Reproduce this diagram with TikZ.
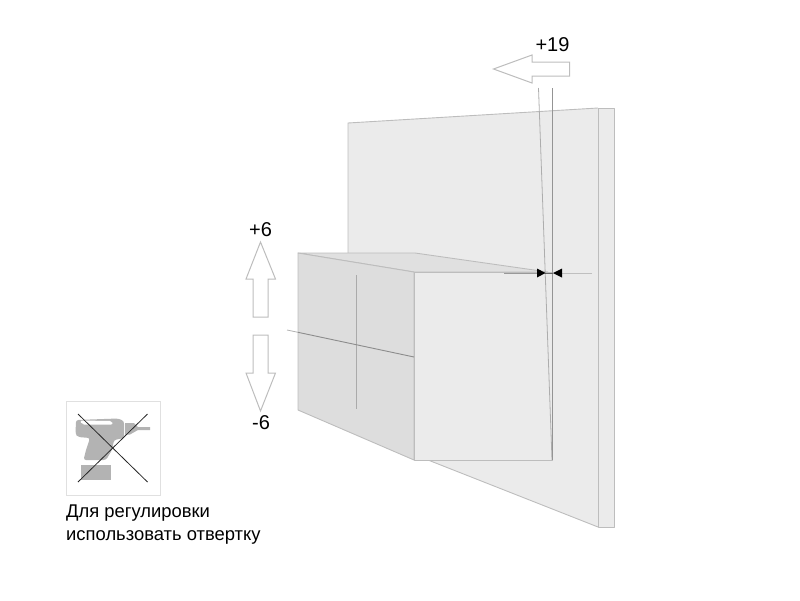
\documentclass[tikz,border=0pt]{standalone}
\usepackage{fontspec}
\setmainfont{Liberation Sans}
\definecolor{wallfill}{HTML}{EBEBEB}
\definecolor{sidefill}{HTML}{DDDDDD}
\definecolor{topfill}{HTML}{E0E0E0}
\definecolor{edge}{HTML}{BDBDBD}
\definecolor{drill}{HTML}{B3B3B3}
\tikzset{
  face/.style={draw=edge,line width=0.9pt,line join=round},
  hollowarrow/.style={draw=edge,fill=white,line width=1pt,line join=miter},
  label/.style={font=\fontsize{20}{24}\selectfont,inner sep=0pt},
  caption/.style={font=\fontsize{18.4}{22.6}\selectfont,align=left,inner sep=0pt,anchor=north west}
}
\begin{document}
\begin{tikzpicture}[x=1pt,y=-1pt]
\useasboundingbox (0,0) rectangle (800,600);
% wall
\path[fill=wallfill] (348,123) -- (598,108) -- (598,527) -- (428,460) -- (348,460) -- cycle;
\draw[edge,line width=0.9pt] (348,254) -- (348,123) -- (598,108);
\draw[edge,line width=0.9pt] (428,460) -- (598,527);
\path[face,fill=wallfill] (598,108) -- (614,108) -- (614,527) -- (598,527) -- cycle;
% box
\path[face,fill=topfill] (298,253) -- (415,253) -- (548,272) -- (414,272) -- cycle;
\path[fill=white] (348,400) -- (348,461) -- (414,461) -- cycle;
\path[face,fill=sidefill] (298,253) -- (414,272) -- (414,460) -- (298,410) -- cycle;
\path[face,fill=wallfill] (414,272) -- (552,272) -- (552,460) -- (414,460) -- cycle;
% cross on the side
\draw[edge!90!black,line width=0.8pt] (356,275) -- (356,409);
\coordinate (crossa) at (287,330);
\coordinate (crossb) at (414,357);
\draw[line width=0.8pt,draw=black!30] (crossa) -- (298,332.3);
\draw[line width=0.9pt,draw=black!45] (298,332.3) -- (crossb);
% slant and vertical reference lines
\coordinate (slanttop) at (538.5,88);
\coordinate (slantbot) at (552,460);
\coordinate (verttop) at (552,88);
\draw[line width=0.8pt,draw=black!32] (slanttop) -- (slantbot);
\draw[line width=0.8pt,draw=black!42] (verttop) -- (slantbot);
% dimension arrows
\coordinate (dimla) at (504,273);
\coordinate (dimlb) at (537,273);
\coordinate (dimra) at (592,273);
\coordinate (dimrb) at (562,273);
\draw[line width=1pt,draw=black!40] (dimla) -- (dimlb);
\draw[line width=1pt,draw=black!25] (dimra) -- (dimrb);
\draw[line width=0.8pt,draw=black!60] (545,273) -- (553,273);
\fill[black] (545.5,273) -- (537,268.5) -- (537,277.5) -- cycle;
\fill[black] (553,273) -- (562,268.5) -- (562,277.5) -- cycle;
% hollow arrows
\path[hollowarrow] (493.5,69) -- (532,55) -- (532,62) -- (569.5,62) -- (569.5,76) -- (532,76) -- (532,83) -- cycle;
\path[hollowarrow] (260.5,242) -- (275.5,279) -- (268,279) -- (268,317) -- (253,317) -- (253,279) -- (246,279) -- cycle;
\path[hollowarrow] (260.5,411) -- (275.5,373) -- (268,373) -- (268,335) -- (253,335) -- (253,373) -- (246,373) -- cycle;
% labels
\node[label] (lab19) at (552.5,44.5) {+19};
\node[label] (labp6) at (260.5,230) {+6};
\node[label] (labm6) at (261,422.5) {-6};
% icon
\draw[draw=black!12,line width=0.9pt] (66.5,401.5) rectangle (160,495);
\fill[drill,rounded corners=2.5pt] (76,420) -- (118,418.5) -- (124,421) -- (124,438) -- (114,440) -- (112,450) -- (106,460) -- (83.5,460) -- (86,450) -- (90,438) -- (78,437) -- (75.5,434) -- cycle;
\fill[white,rounded corners=2pt] (80,420.5) -- (112,421) -- (113,424.5) -- (82,424.5) -- cycle;
\fill[drill] (81,465) -- (111,465) -- (111,480) -- (81,480) -- cycle;
\fill[drill] (125,423) -- (134,423) -- (138,427) -- (150,427) -- (150,430) -- (138,430) -- (130,434.5) -- (125,434.5) -- cycle;
\coordinate (xa) at (78,414);
\coordinate (xb) at (147.5,482);
\coordinate (xc) at (147.5,414);
\coordinate (xd) at (78,482);
\draw[line width=0.8pt,draw=black!85] (xa) -- (xb);
\draw[line width=0.8pt,draw=black!85] (xc) -- (xd);
\node[caption] (cap) at (66,505) {Для регулировки\\использовать отвертку};
\end{tikzpicture}
\end{document}
